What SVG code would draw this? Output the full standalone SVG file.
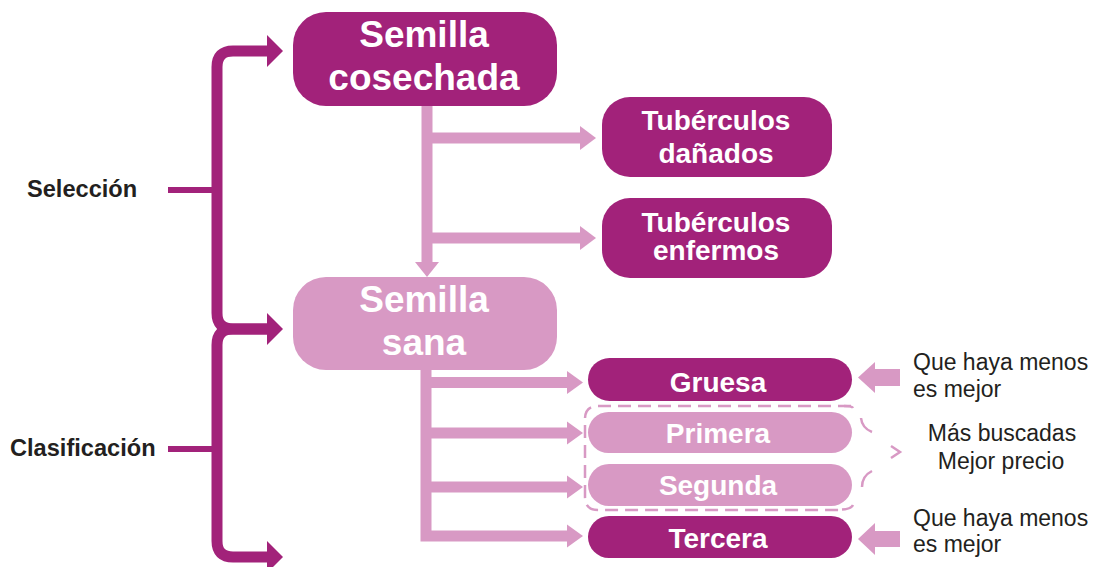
<svg xmlns="http://www.w3.org/2000/svg" width="1097" height="567" viewBox="0 0 1097 567">
<style>
.dark{fill:#a2227a}
.light{fill:#d899c4}
.bt{font-family:"Liberation Sans",Arial,sans-serif;font-weight:bold;fill:#ffffff;text-anchor:middle}
.lbl{font-family:"Liberation Sans",Arial,sans-serif;font-weight:bold;fill:#231f20;font-size:23.6px}
.note{font-family:"Liberation Sans",Arial,sans-serif;fill:#231f20;font-size:23px}
.ps{stroke:#d899c4;stroke-width:11;fill:none}
.ds{stroke:#a2227a;stroke-width:11;fill:none}
.dash{fill:none;stroke:#d899c4;stroke-width:2.5}
</style>
<rect width="1097" height="567" fill="#ffffff"/>
<g id="connectors">
  <!-- left brackets -->
  <path class="ds" d="M268 51 H233 Q217 51 217 67 V313 Q217 329 233 329 H268"/>
  <path class="ds" d="M268 329 H233 Q217 329 217 345 V541 Q217 557 233 557 H268"/>
  <polygon class="dark" points="267,35 267,67 283,51"/>
  <polygon class="dark" points="267,313 267,345 283,329"/>
  <polygon class="dark" points="267,541 267,573 283,557"/>
  <path d="M168 190 H217" stroke="#a2227a" stroke-width="6"/>
  <path d="M168 449 H217" stroke="#a2227a" stroke-width="6"/>
  <!-- upper pink tree -->
  <path class="ps" d="M427 106 V263"/>
  <polygon class="light" points="415,262 439,262 427,277"/>
  <path class="ps" d="M427 138 H581"/>
  <polygon class="light" points="580,126 580,150 596,138"/>
  <path class="ps" d="M427 238 H581"/>
  <polygon class="light" points="580,226 580,250 596,238"/>
  <!-- lower pink tree -->
  <path class="ps" d="M426 370 V536 H568"/>
  <path class="ps" d="M426 382.5 H568"/>
  <path class="ps" d="M426 433 H568"/>
  <path class="ps" d="M426 487 H568"/>
  <polygon class="light" points="567,371 567,394 583,382.5"/>
  <polygon class="light" points="567,421.5 567,444.5 583,433"/>
  <polygon class="light" points="567,475.5 567,498.5 583,487"/>
  <polygon class="light" points="567,524.5 567,547.5 583,536"/>
  <!-- right arrows -->
  <rect class="light" x="874" y="369" width="26" height="17"/>
  <polygon class="light" points="875,362 875,393 858,377.5"/>
  <rect class="light" x="874" y="531" width="26" height="16"/>
  <polygon class="light" points="875,523 875,555 858,539"/>
  <!-- dashed group brace -->
  <path class="dash" d="M851 406 H598 Q585 406 585 419 V497 Q585 510 598 510 H842" stroke-dasharray="13 7"/>
  <path class="dash" d="M844 406 Q852 406 853 408"/>
  <path class="dash" d="M861 418 Q862 428 872 432"/>
  <path class="dash" d="M891 446 L900 452 L891 458"/>
  <path class="dash" d="M872 471 Q862 476 862 487"/>
  <path class="dash" d="M842 509.5 Q851 509 853 505"/>
</g>
<g id="semilla-cosechada">
  <rect class="dark" x="293" y="12" width="264" height="94" rx="33"/>
  <text class="bt" x="424" y="47" font-size="37">Semilla</text>
  <text class="bt" x="424" y="90" font-size="37">cosechada</text>
</g>
<g id="semilla-sana">
  <rect class="light" x="293" y="277" width="264" height="93" rx="33"/>
  <text class="bt" x="424" y="312" font-size="37">Semilla</text>
  <text class="bt" x="424" y="355" font-size="37">sana</text>
</g>
<g id="tuberculos-danados">
  <rect class="dark" x="602" y="97" width="230" height="80" rx="28"/>
  <text class="bt" x="716" y="130" font-size="28">Tubérculos</text>
  <text class="bt" x="716" y="163" font-size="28">dañados</text>
</g>
<g id="tuberculos-enfermos">
  <rect class="dark" x="602" y="198" width="230" height="80" rx="28"/>
  <text class="bt" x="716" y="232" font-size="28">Tubérculos</text>
  <text class="bt" x="716" y="260" font-size="28">enfermos</text>
</g>
<g id="gruesa">
  <rect class="dark" x="588" y="358" width="264" height="43" rx="21.5"/>
  <text class="bt" x="718" y="392" font-size="28">Gruesa</text>
</g>
<g id="primera">
  <rect class="light" x="588" y="412" width="264" height="41" rx="20.5"/>
  <text class="bt" x="718" y="443" font-size="28">Primera</text>
</g>
<g id="segunda">
  <rect class="light" x="588" y="464" width="264" height="42" rx="21"/>
  <text class="bt" x="718" y="495" font-size="28">Segunda</text>
</g>
<g id="tercera">
  <rect class="dark" x="588" y="516" width="264" height="42" rx="21"/>
  <text class="bt" x="718" y="548" font-size="28">Tercera</text>
</g>
<g id="labels">
  <text class="lbl" x="27" y="197">Selección</text>
  <text class="lbl" x="10" y="456">Clasificación</text>
  <text class="note" x="913" y="370">Que haya menos</text>
  <text class="note" x="913" y="397">es mejor</text>
  <text class="note" x="1002" y="441" text-anchor="middle">Más buscadas</text>
  <text class="note" x="1001" y="469" text-anchor="middle">Mejor precio</text>
  <text class="note" x="913" y="526">Que haya menos</text>
  <text class="note" x="913" y="552">es mejor</text>
</g>
</svg>
